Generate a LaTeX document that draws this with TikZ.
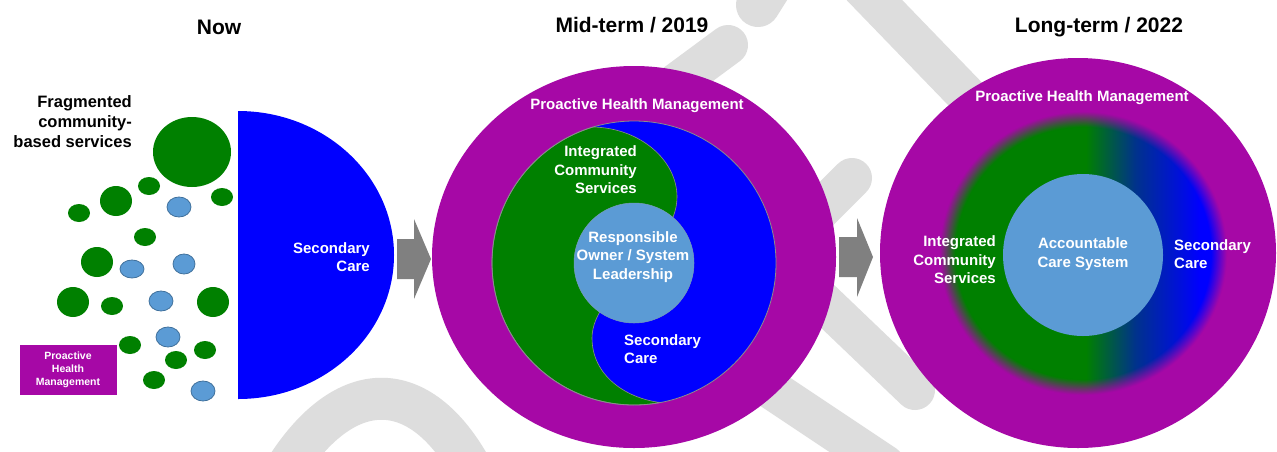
\documentclass[tikz,border=0pt]{standalone}
\usepackage{fontspec}
\setmainfont{Liberation Sans}
\usetikzlibrary{fadings}
\definecolor{sgreen}{RGB}{0,128,0}
\definecolor{sblue}{RGB}{0,0,255}
\definecolor{deepblue}{RGB}{0,50,140}
\definecolor{lblue}{RGB}{91,155,213}
\definecolor{lbline}{RGB}{65,113,156}
\definecolor{hpurple}{RGB}{166,8,166}
\definecolor{wmgray}{RGB}{221,221,221}
\definecolor{arrowgray}{RGB}{128,128,128}
\pgfdeclarehorizontalshading{gbshade}{100bp}{color(0bp)=(sgreen); color(50.5bp)=(sgreen); color(59bp)=(deepblue); color(70bp)=(sblue); color(100bp)=(sblue)}
\pgfdeclareradialshading{ringshade}{\pgfpointorigin}{color(0bp)=(black); color(21.8bp)=(black); color(24.5bp)=(white); color(50bp)=(white)}
\pgfdeclarefading{ringfade}{\pgfuseshading{ringshade}}
\def\bubble[#1](#2)(#3:#4){\fill[#1] (#2) ellipse (#3 and #4);}
\tikzset{
  heading/.style={font=\bfseries\fontsize{21}{25}\selectfont, inner sep=0},
  wlabel/.style={text=white, font=\bfseries\fontsize{15}{18.5}\selectfont, inner sep=0},
  band/.style={wmgray, line width=40, line cap=round},
  greenspot/.style={fill=sgreen},
  bluespot/.style={fill=lblue, draw=lbline, line width=0.8},
}
\begin{document}
\begin{tikzpicture}[x=1pt, y=-1pt]
			%%%%% START %%%%%
			\useasboundingbox (0,0) rectangle (1277,451);
			\clip (0,0) rectangle (1277,451);
			\fill[white] (0,0) rectangle (1277,451);
			
			% watermark behind everything
			\draw[band, line width=42, line cap=butt] (285,470) .. controls (345,375) and (420,375) .. (472,470);
			\draw[band] (640,110) -- (728,45);
			\draw[band, line width=44] (758,5) -- (780,-30);
			\draw[band] (855,-20) -- (1000,130);
			\draw[band] (770,260) -- (852,178);
			\draw[band] (800,280) -- (915,390);
			\draw[band] (765,385) -- (885,465);
			
			% now
			\node[heading] (now) at (219,27) {Now};
			\node[font=\bfseries\fontsize{16.5}{20}\selectfont, inner sep=0, anchor=east, align=right] (frag) at (132,122) {Fragmented\\community-\\based services};
			\fill[sblue] (238,111) arc (-90:90:156 and 144) -- cycle;
			\node[wlabel, anchor=east, align=right] (sc0) at (370,257) {Secondary\\Care};
			
			\bubble[greenspot](192,152)(39:35)
			\bubble[greenspot](149,186)(11:9)
			\bubble[greenspot](116,201)(16:15)
			\bubble[greenspot](79,213)(11:9)
			\bubble[greenspot](222,197)(11:9)
			\bubble[greenspot](145,237)(11:9)
			\bubble[greenspot](97,262)(16:15)
			\bubble[greenspot](73,302)(16:15)
			\bubble[greenspot](112,306)(11:9)
			\bubble[greenspot](213,302)(16:15)
			\bubble[greenspot](130,345)(11:9)
			\bubble[greenspot](205,350)(11:9)
			\bubble[greenspot](176,360)(11:9)
			\bubble[greenspot](154,380)(11:9)
			\bubble[bluespot](179,207)(12:10)
			\bubble[bluespot](132,269)(12:9)
			\bubble[bluespot](184,264)(11:10)
			\bubble[bluespot](161,301)(12:10)
			\bubble[bluespot](168,337)(12:10)
			\bubble[bluespot](203,391)(12:10)
			
			\fill[hpurple] (20,345) rectangle (117,395);
			\node[text=white, font=\bfseries\fontsize{10.5}{13}\selectfont, inner sep=0, align=center] (phm0) at (68,370) {Proactive\\Health\\Management};
			
			% arrows
			\fill[arrowgray] (397,239) -- (414,239) -- (414,219) -- (431,259) -- (414,299) -- (414,279) -- (397,279) -- cycle;
			\fill[arrowgray] (839,237) -- (857,237) -- (857,218) -- (873,257) -- (857,297) -- (857,277) -- (839,277) -- cycle;
			
			% mid-term
			\node[heading] (mid) at (632,25) {Mid-term / 2019};
			\fill[hpurple] (634,257) ellipse (202 and 191);
			\fill[sblue] (634,263) circle (142);
			\filldraw[fill=sgreen, draw=black!45, line width=0.6] (593,127) arc (253.2:79.4:142) .. controls (625,398) and (592,375) .. (592,338) .. controls (592,290) and (677,250) .. (677,197) .. controls (677,160) and (640,128) .. (593,127) -- cycle;
			\draw[black!45, line width=0.8] (634,263) circle (142);
			\filldraw[fill=lblue, draw=lbline!70, line width=0.5] (634,263) circle (60);
			\node[wlabel] (phm1) at (637,106) {Proactive Health Management};
			\node[wlabel, anchor=east, align=right] (ics1) at (637,170) {Integrated\\Community\\Services};
			\node[wlabel, align=center] (rosl) at (633,257) {Responsible\\Owner / System\\Leadership};
			\node[wlabel, anchor=west, align=left] (sc1) at (624,349) {Secondary\\Care};
			
			% long-term
			\node[heading] (long) at (1099,27) {Long-term / 2022};
			\fill[hpurple] (1078,253) ellipse (198 and 195);
			\shade[shading=gbshade] (1083,253) ellipse (146 and 144);
			\fill[hpurple, path fading=ringfade] (1083,253) ellipse (146 and 144);
			\draw[hpurple, line width=2] (1083,253) ellipse (146 and 144);
			\fill[lblue] (1083,255) ellipse (80 and 81);
			\node[wlabel] (phm2) at (1082,98) {Proactive Health Management};
			\node[wlabel, anchor=east, align=right] (ics2) at (996,260) {Integrated\\Community\\Services};
			\node[wlabel, align=center] (acs) at (1083,254) {Accountable\\Care System};
			\node[wlabel, anchor=west, align=left] (sc2) at (1174,254) {Secondary\\Care};
			%%%%% END %%%%%
\end{tikzpicture}
\end{document}
